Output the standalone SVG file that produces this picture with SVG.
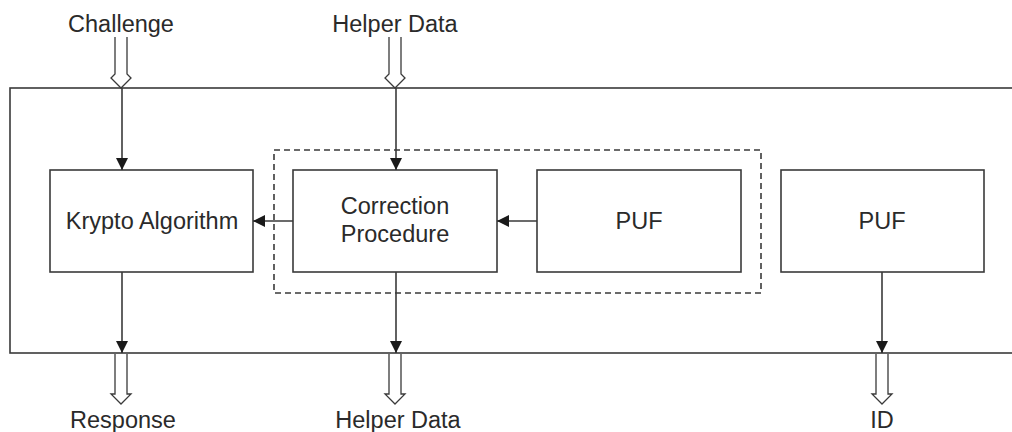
<svg xmlns="http://www.w3.org/2000/svg" width="1012" height="432" viewBox="0 0 1012 432">
<defs>
<style>
.box{fill:#fff;stroke:#3a3a3a;stroke-width:1.6}
.ln{fill:none;stroke:#3a3a3a;stroke-width:1.6}
.dash{fill:none;stroke:#3a3a3a;stroke-width:1.6;stroke-dasharray:6,4}
.hollow{fill:#fff;stroke:#3a3a3a;stroke-width:1.3;stroke-linejoin:miter}
text{font-family:"Liberation Sans",Arial,sans-serif;font-size:23.5px;fill:#2a2a2a;text-anchor:middle}
</style>
<marker id="ah" viewBox="0 0 12 12" refX="12" refY="6" markerWidth="12" markerHeight="12" markerUnits="userSpaceOnUse" orient="auto">
<path d="M0,0 L12,6 L0,12 Z" fill="#1a1a1a"/>
</marker>
<path id="hin" d="M-6,0 L-6,37 L-10,41 L0,51 L10,41 L6,37 L6,0"/>
<path id="hout" d="M-6,0 L-6,40 L-10,40 L0,50 L10,40 L6,40 L6,0"/>
</defs>
<g id="outer"><rect class="box" x="10" y="88" width="1010" height="265"/></g>
<g id="group"><rect class="dash" x="274" y="150" width="487" height="143"/></g>
<g id="krypto"><rect class="box" x="50" y="170" width="203" height="102"/><text x="152" y="229">Krypto Algorithm</text></g>
<g id="correction"><rect class="box" x="293" y="170" width="204" height="102"/><text x="395" y="214">Correction</text><text x="395" y="242">Procedure</text></g>
<g id="puf1"><rect class="box" x="537" y="170" width="204" height="102"/><text x="639" y="229">PUF</text></g>
<g id="puf2"><rect class="box" x="781" y="170" width="203" height="102"/><text x="882" y="229">PUF</text></g>
<g id="connectors">
<line class="ln" x1="122" y1="88" x2="122" y2="170" marker-end="url(#ah)"/>
<line class="ln" x1="396" y1="88" x2="396" y2="170" marker-end="url(#ah)"/>
<line class="ln" x1="293" y1="221" x2="253" y2="221" marker-end="url(#ah)"/>
<line class="ln" x1="537" y1="221" x2="497" y2="221" marker-end="url(#ah)"/>
<line class="ln" x1="122" y1="272" x2="122" y2="353" marker-end="url(#ah)"/>
<line class="ln" x1="396" y1="272" x2="396" y2="353" marker-end="url(#ah)"/>
<line class="ln" x1="882" y1="272" x2="882" y2="353" marker-end="url(#ah)"/>
<use href="#hin" class="hollow" x="121" y="37" fill="none"/>
<use href="#hin" class="hollow" x="395" y="37" fill="none"/>
<use href="#hout" class="hollow" x="121" y="354"/>
<use href="#hout" class="hollow" x="395" y="354"/>
<use href="#hout" class="hollow" x="882" y="354"/>
</g>
<g id="labels">
<text x="121" y="32">Challenge</text>
<text x="395" y="32">Helper Data</text>
<text x="123" y="428">Response</text>
<text x="398" y="428">Helper Data</text>
<text x="882" y="428">ID</text>
</g>
</svg>
